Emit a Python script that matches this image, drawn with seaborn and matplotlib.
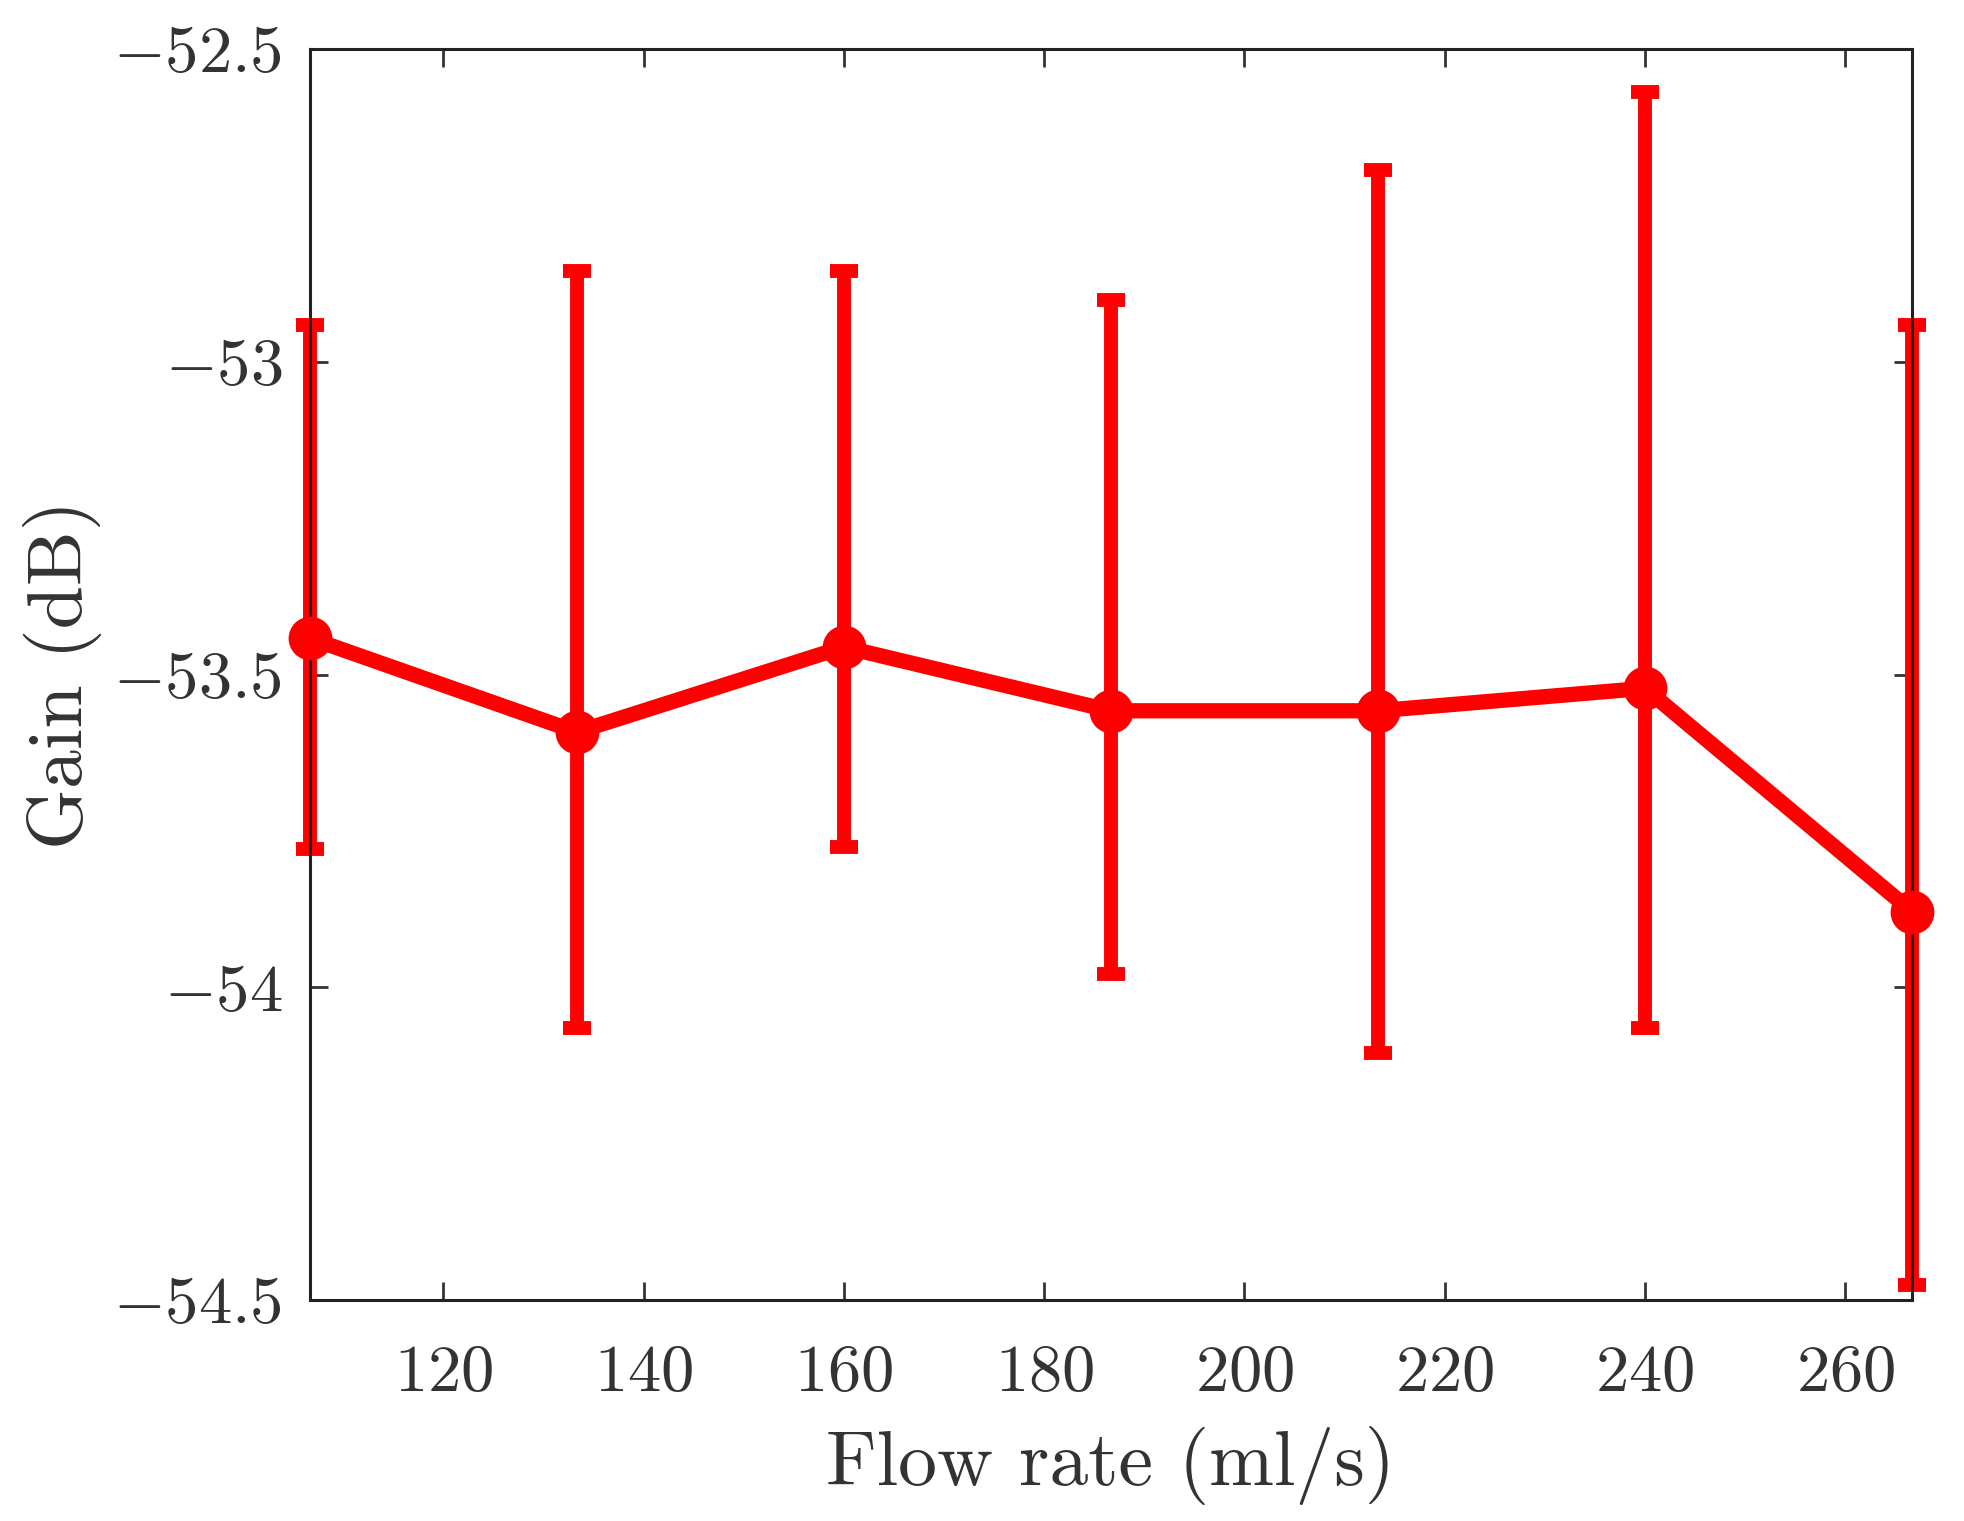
import matplotlib
matplotlib.use("Agg")
import matplotlib.pyplot as plt
import seaborn as sns
import numpy as np
import pandas as pd

flow_rate = [106.67, 133.33, 160.0, 186.67, 213.33, 240.0, 266.67]
gain_mean = [-53.442, -53.592, -53.456, -53.558, -53.558, -53.522, -53.879]
gain_upper = [-52.941, -52.855, -52.855, -52.901, -52.694, -52.568, -52.941]
gain_lower = [-53.779, -54.065, -53.775, -53.979, -54.105, -54.065, -54.476]

x_ticks = [120, 140, 160, 180, 200, 220, 240, 260]
y_ticks = [-54.5, -54.0, -53.5, -53.0, -52.5]
y_ticklabels = ["$-54.5$", "$-54$", "$-53.5$", "$-53$", "$-52.5$"]

sns.set_theme(style="ticks")
plt.rcParams["mathtext.fontset"] = "cm"
plt.rcParams["font.family"] = ["cmr10", "DejaVu Serif"]
plt.rcParams["axes.unicode_minus"] = False

df = pd.DataFrame({"flow": flow_rate, "gain": gain_mean})

fig = plt.figure(figsize=(9.82, 7.605), dpi=200)
ax = fig.add_axes([310 / 1964, 1 - 1300 / 1521, (1912 - 310) / 1964, (1300 - 49) / 1521])

red = "#ff0000"
yerr = np.array([np.array(gain_mean) - np.array(gain_lower),
                 np.array(gain_upper) - np.array(gain_mean)])
ax.errorbar(flow_rate, gain_mean, yerr=yerr, fmt="none", ecolor=red,
            elinewidth=5.0, capsize=5.2, capthick=5.0, zorder=2, clip_on=False)
sns.lineplot(data=df, x="flow", y="gain", ax=ax, color=red, linewidth=5.5,
             marker="o", markersize=15, markeredgecolor=red, zorder=3, clip_on=False)

ax.set_xlim(106.67, 266.67)
ax.set_ylim(-54.5, -52.5)
ax.set_xticks(x_ticks)
ax.set_xticklabels([f"${t}$" for t in x_ticks])
ax.set_yticks(y_ticks)
ax.set_yticklabels(y_ticklabels)
ax.tick_params(direction="in", length=6.5, width=1.0, top=True, right=True,
               labelsize=24, colors="#333333")
ax.tick_params(axis="x", pad=16)
ax.tick_params(axis="y", pad=10)
for s in ax.spines.values():
    s.set_linewidth(1.1)
    s.set_color("#222222")

ax.set_xlabel("Flow rate (ml/s)", fontsize=28, color="#333333", labelpad=8)
ax.set_ylabel("Gain (dB)", fontsize=28, color="#333333", labelpad=4)

fig.savefig("out.png", dpi=200, facecolor="white")
